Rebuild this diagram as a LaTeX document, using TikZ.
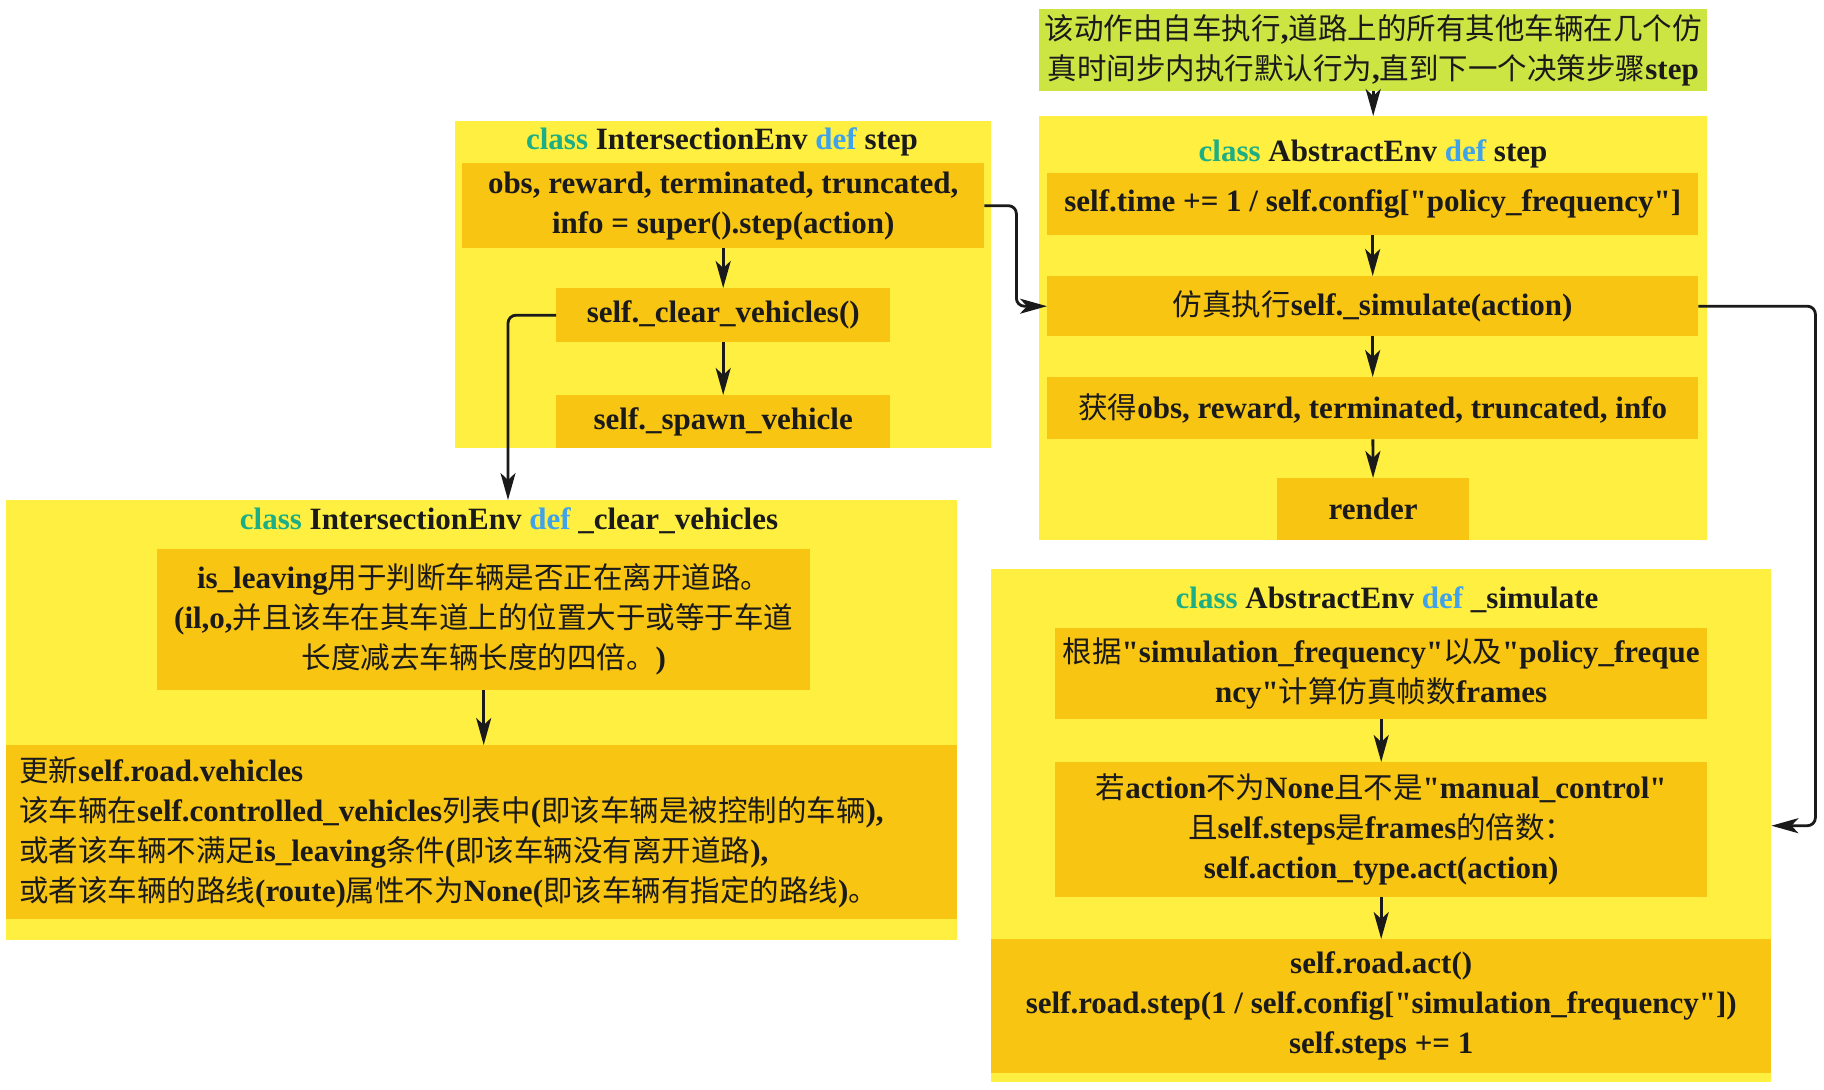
\documentclass[tikz,border=0pt]{standalone}
\usepackage{fontspec}
\setmainfont{Liberation Serif}[Ligatures=TeXOff]
\newfontfamily\cjkf{Noto Sans CJK SC}
\newcommand{\zh}[1]{{\cjkf\mdseries\fontsize{29.5pt}{40pt}\selectfont #1}}
\usetikzlibrary{arrows.meta}
\definecolor{yel}{HTML}{FFEF40}
\definecolor{gold}{HTML}{F8C513}
\definecolor{lime}{HTML}{CCE542}
\definecolor{kwteal}{HTML}{1DAE85}
\definecolor{kwblue}{HTML}{3FA2EA}
\definecolor{ink}{HTML}{1A1A1A}
\tikzset{
  basefont/.style={font=\fontsize{31pt}{40pt}\selectfont\bfseries},
  outerbox/.style={fill=yel, draw=none, inner sep=0pt, anchor=north west},
  innerbox/.style={fill=gold, draw=none, inner sep=0pt, anchor=north west, align=center, basefont, text=ink},
  notebox/.style={fill=lime, draw=none, inner sep=0pt, anchor=north west, align=center, basefont, text=ink},
  titletext/.style={basefont, text=ink, inner sep=0pt},
  arr/.style={draw=ink, line width=2.8pt, -{Stealth[length=27pt,width=15pt,inset=7pt]}},
}
\newcommand{\cls}{\textcolor{kwteal}{class}}
\newcommand{\dfn}{\textcolor{kwblue}{def}}
\begin{document}
\begin{tikzpicture}[x=1pt,y=-1pt]
\useasboundingbox (0,0) rectangle (1824,1090);
% outer containers
\node[outerbox, minimum width=668pt, minimum height=424pt] (aout) at (1039,116) {};
\node[outerbox, minimum width=536pt, minimum height=327pt] (iout) at (455,121) {};
\node[outerbox, minimum width=951pt, minimum height=440pt] (cout) at (6,500) {};
\node[outerbox, minimum width=780pt, minimum height=513pt] (sout) at (991,569) {};
% note
\node[notebox, minimum width=668pt, minimum height=82pt] (g) at (1039,9)
  {\zh{该动作由自车执行},\zh{道路上的所有其他车辆在几个仿}\\\zh{真时间步内执行默认行为},\zh{直到下一个决策步骤}step};
% titles
\node[titletext] (tI) at (722,142) {\cls{} IntersectionEnv \dfn{} step};
\node[titletext] (tA) at (1373,154) {\cls{} AbstractEnv \dfn{} step};
\node[titletext] (tC) at (509,521) {\cls{} IntersectionEnv \dfn{} \_clear\_vehicles};
\node[titletext] (tS) at (1387,600) {\cls{} AbstractEnv \dfn{} \_simulate};
% IntersectionEnv step
\node[innerbox, minimum width=522pt, minimum height=85pt] (i1) at (462,163)
  {obs, reward, terminated, truncated,\\info = super().step(action)};
\node[innerbox, minimum width=334pt, minimum height=54pt] (i2) at (556,288) {self.\_clear\_vehicles()};
\node[innerbox, minimum width=334pt, minimum height=53pt] (i3) at (556,395) {self.\_spawn\_vehicle};
% AbstractEnv step
\node[innerbox, minimum width=651pt, minimum height=62pt] (a1) at (1047,173)
  {self.time += 1 / self.config["policy\_frequency"]};
\node[innerbox, minimum width=651pt, minimum height=60pt] (a2) at (1047,276)
  {\zh{仿真执行}self.\_simulate(action)};
\node[innerbox, minimum width=651pt, minimum height=62pt] (a3) at (1047,377)
  {\zh{获得}obs, reward, terminated, truncated, info};
\node[innerbox, minimum width=192pt, minimum height=62pt] (render) at (1277,478) {render};
% clear vehicles
\node[innerbox, minimum width=653pt, minimum height=141pt] (c1) at (157,549)
  {is\_leaving\zh{用于判断车辆是否正在离开道路。}\\(il,o,\zh{并且该车在其车道上的位置大于或等于车道}\\\zh{长度减去车辆长度的四倍。})};
\node[innerbox, minimum height=174pt, text width=925pt, inner xsep=13pt, align=left] (c2) at (6,745)
  {\zh{更新}self.road.vehicles\\
   \zh{该车辆在}self.controlled\_vehicles\zh{列表中}(\zh{即该车辆是被控制的车辆}),\\
   \zh{或者该车辆不满足}is\_leaving\zh{条件}(\zh{即该车辆没有离开道路}),\\
   \zh{或者该车辆的路线}(route)\zh{属性不为}None(\zh{即该车辆有指定的路线})\zh{。}};
% simulate
\node[innerbox, minimum width=652pt, minimum height=91pt] (s1) at (1055,628)
  {\zh{根据}"simulation\_frequency"\zh{以及}"policy\_freque\\ncy"\zh{计算仿真帧数}frames};
\node[innerbox, minimum width=652pt, minimum height=135pt] (s2) at (1055,762)
  {\zh{若}action\zh{不为}None\zh{且不是}"manual\_control"\\\zh{且}self.steps\zh{是}frames\zh{的倍数：}\\self.action\_type.act(action)};
\node[innerbox, minimum width=780pt, minimum height=134pt] (s3) at (991,939)
  {self.road.act()\\self.road.step(1 / self.config["simulation\_frequency"])\\self.steps += 1};
% connectors
\coordinate (cdrop) at (508,500);
\draw[arr] (g.south) -- (aout.north);
\draw[arr] (a1) -- (a2);
\draw[arr] (a2) -- (a3);
\draw[arr] (a3) -- (render);
\draw[arr] (i1) -- (i2);
\draw[arr] (i2) -- (i3);
\draw[arr, rounded corners=8pt] (i1.east) -- ++(32,0) |- (a2.west);
\draw[arr, rounded corners=8pt] (i2.west) -| (cdrop);
\draw[arr] (c1.south) -- (c1.south |- c2.north);
\draw[arr] (s1) -- (s2);
\draw[arr] (s2) -- (s3);
\draw[arr, rounded corners=8pt] (a2.east) -- ++(117,0) |- (sout.east);
\end{tikzpicture}
\end{document}
